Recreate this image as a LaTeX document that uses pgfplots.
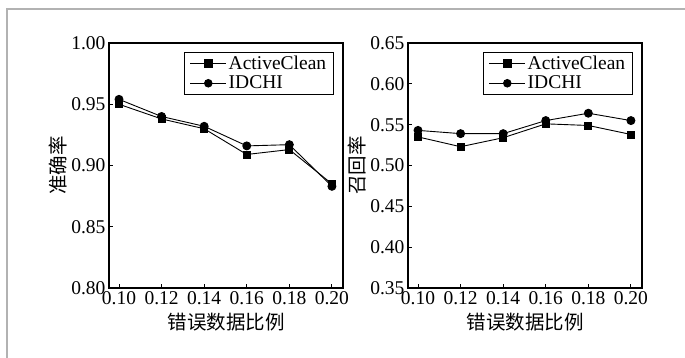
\documentclass[border=0pt]{standalone}
\usepackage{pgfplots}
\pgfplotsset{compat=1.18}
\usepackage{fontspec}
\setmainfont{Liberation Serif}
\newfontfamily\cjk{Noto Sans CJK SC}
\begin{document}
\begin{tikzpicture}
\pgfplotsset{
  myax/.style={
    scale only axis, width=234pt, height=245pt,
    xmin=0.0953, xmax=0.2052,
    xtick={0.10,0.12,0.14,0.16,0.18,0.20},
    xticklabel style={/pgf/number format/.cd, fixed, fixed zerofill, precision=2},
    yticklabel style={/pgf/number format/.cd, fixed, fixed zerofill, precision=2},
    /pgf/number format/assume math mode=true,
    tick align=inside, xtick pos=bottom, ytick pos=left,
    major tick length=4pt,
    axis line style={line width=1.4pt},
    tick style={line width=0.9pt, black},
    font=\fontsize{19.5}{22}\selectfont,
    xlabel={\cjk 错误数据比例},
    xlabel style={yshift=-1pt},
    ylabel style={yshift=-3pt},
    legend cell align=left,
    legend style={at={(rel axis cs:0.96,0.965)}, anchor=north east, draw=black, line width=0.9pt,
      font=\fontsize{19.5}{21}\selectfont, inner xsep=5pt, inner ysep=2pt, row sep=1pt},
    legend image code/.code={\draw[#1, line width=0.9pt] (0pt,0pt) -- (36pt,0pt); \path[#1, mark size=3.8pt] plot coordinates {(18pt,0pt)};},
    every axis plot/.append style={black, line width=0.9pt},
  }
}
\begin{axis}[myax, at={(109pt,70pt)}, anchor=south west,
  ymin=0.80, ymax=1.00, ytick={0.80,0.85,0.90,0.95,1.00},
  ylabel={\cjk 准确率}]
\addplot[mark=square*, mark size=3.5pt] coordinates {(0.10,0.950) (0.12,0.938) (0.14,0.930) (0.16,0.909) (0.18,0.913) (0.20,0.885)};
\addlegendentry{ActiveClean}
\addplot[mark=*, mark size=4pt] coordinates {(0.10,0.954) (0.12,0.940) (0.14,0.932) (0.16,0.916) (0.18,0.917) (0.20,0.883)};
\addlegendentry{IDCHI}
\end{axis}
\begin{axis}[myax, at={(408pt,70pt)}, anchor=south west,
  ymin=0.35, ymax=0.65, ytick={0.35,0.40,0.45,0.50,0.55,0.60,0.65},
  ylabel={\cjk 召回率}]
\addplot[mark=square*, mark size=3.5pt] coordinates {(0.10,0.535) (0.12,0.523) (0.14,0.534) (0.16,0.551) (0.18,0.549) (0.20,0.538)};
\addlegendentry{ActiveClean}
\addplot[mark=*, mark size=4pt] coordinates {(0.10,0.543) (0.12,0.539) (0.14,0.539) (0.16,0.555) (0.18,0.564) (0.20,0.555)};
\addlegendentry{IDCHI}
\end{axis}
\draw[gray!60, line width=1.5pt] (7pt,0pt) -- (7pt,349pt) -- (685pt,349pt);
\pgfresetboundingbox
\useasboundingbox (0pt,0pt) rectangle (685pt,358pt);
\end{tikzpicture}
\end{document}
